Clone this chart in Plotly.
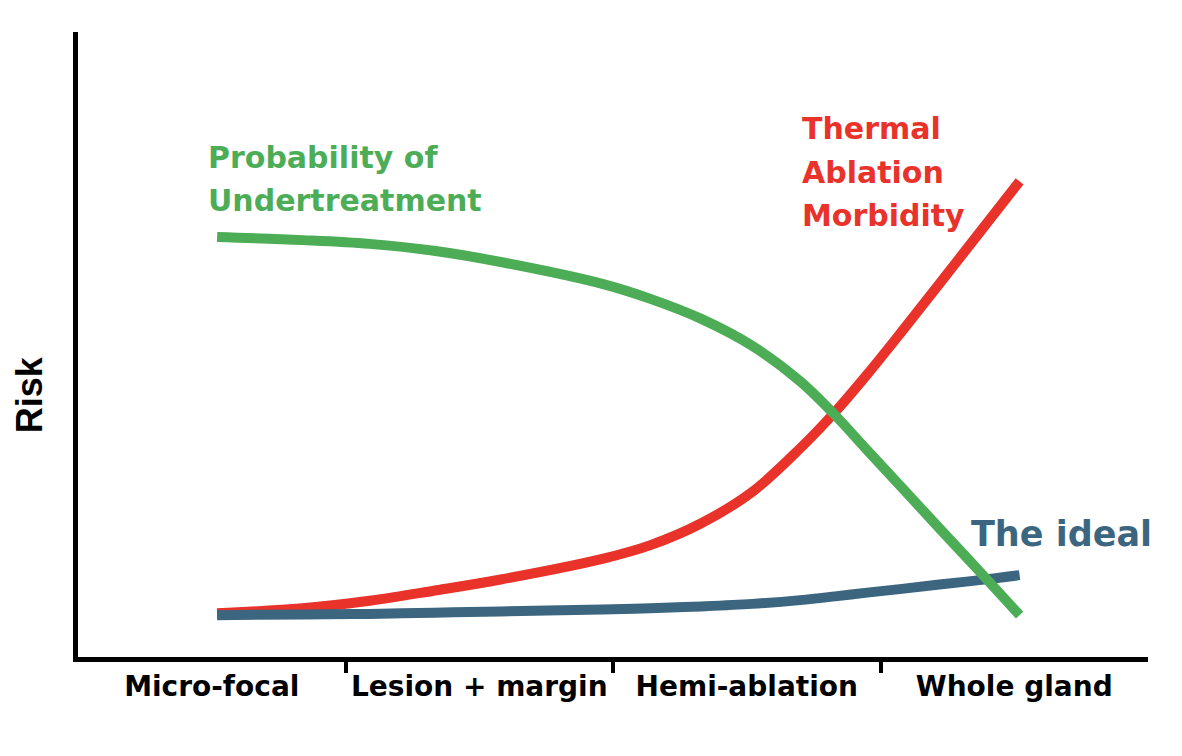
import plotly.graph_objects as go

# Data
categories = ["Micro-focal", "Lesion + margin", "Hemi-ablation", "Whole gland"]
category_pos = [0.5, 1.5, 2.5, 3.5]
boundary_pos = [1, 2, 3]

x_vals = [0.52, 0.84, 1.09, 1.33, 1.58, 1.96, 2.14, 2.33, 2.52, 2.70, 2.83, 2.95, 3.08, 3.22, 3.37, 3.52]
undertreatment = [0.672, 0.667, 0.661, 0.650, 0.632, 0.597, 0.573, 0.541, 0.498, 0.441, 0.387, 0.331, 0.271, 0.206, 0.137, 0.067]
thermal_morbidity = [0.070, 0.078, 0.090, 0.106, 0.124, 0.157, 0.179, 0.214, 0.264, 0.334, 0.392, 0.452, 0.521, 0.597, 0.679, 0.761]
ideal = [0.067, 0.068, 0.069, 0.071, 0.073, 0.076, 0.078, 0.081, 0.085, 0.091, 0.097, 0.103, 0.109, 0.116, 0.123, 0.131]

GREEN = "#4DAD57"
RED = "#E8322A"
BLUE = "#3C6680"
FONT = "DejaVu Sans"

fig = go.Figure()
fig.add_trace(go.Scatter(x=x_vals, y=thermal_morbidity, mode="lines",
                         line=dict(color=RED, width=10, shape="spline", smoothing=1.0),
                         name="Thermal Ablation Morbidity"))
fig.add_trace(go.Scatter(x=x_vals, y=ideal, mode="lines",
                         line=dict(color=BLUE, width=10, shape="spline", smoothing=1.0),
                         name="The ideal"))
fig.add_trace(go.Scatter(x=x_vals, y=undertreatment, mode="lines",
                         line=dict(color=GREEN, width=10, shape="spline", smoothing=1.0),
                         name="Probability of Undertreatment"))

def ann(text, x, y, color, size):
    fig.add_annotation(text=text, x=x, y=y, xref="x", yref="y", showarrow=False,
                       xanchor="left", yanchor="middle",
                       font=dict(family=FONT, size=size, color=color, weight="bold"))

ann("Probability of", 0.48, 0.800, GREEN, 30)
ann("Undertreatment", 0.48, 0.730, GREEN, 30)
ann("Thermal", 2.70, 0.846, RED, 30)
ann("Ablation", 2.70, 0.776, RED, 30)
ann("Morbidity", 2.70, 0.706, RED, 30)
ann("The ideal", 3.33, 0.197, BLUE, 35)

fig.add_annotation(text="Risk", xref="paper", yref="paper", x=-0.045, y=0.42,
                   showarrow=False, textangle=-90, xanchor="center", yanchor="middle",
                   font=dict(family="Liberation Sans", size=36, color="black", weight="bold"))

fig.update_layout(
    width=1182, height=756,
    margin=dict(l=78, r=34, t=32, b=99),
    paper_bgcolor="white", plot_bgcolor="white",
    showlegend=False,
    xaxis=dict(range=[0, 4], showgrid=False, zeroline=False,
               showline=True, linecolor="black", linewidth=5,
               tickvals=category_pos, ticktext=categories, ticks="",
               tickfont=dict(family=FONT, size=28, color="black", weight="bold"),
               minor=dict(tickvals=boundary_pos, ticks="outside", ticklen=11,
                          tickwidth=4, tickcolor="black", showgrid=False)),
    yaxis=dict(range=[0, 1], showgrid=False, zeroline=False,
               showline=True, linecolor="black", linewidth=5,
               showticklabels=False, ticks=""),
)

fig.write_html("out.html")
